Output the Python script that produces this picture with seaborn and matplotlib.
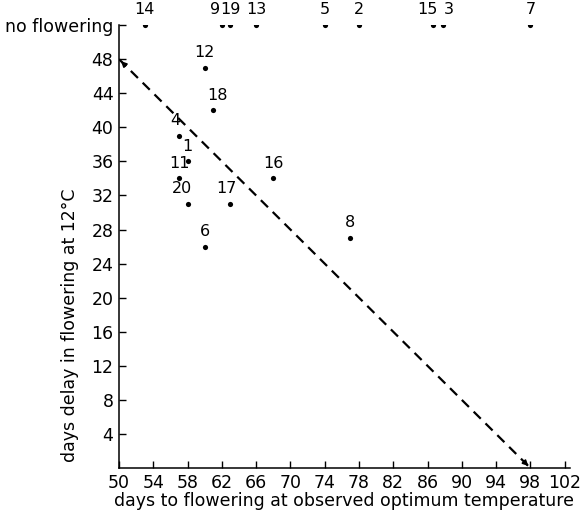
""" Flowering delay at 12°C vs days to flowering at optimum temperature """

import pandas as pd
import matplotlib
matplotlib.use("Agg")
import matplotlib.pyplot as plt
import seaborn as sns

# Genotype numbers and their values
# (y = 52 stands for "no flowering")
ids = [14, 9, 19, 13, 5, 2, 15, 3, 7,
       12, 18, 4, 1, 11, 20, 17, 16, 6, 8]
days_opt = [53, 62, 63, 66, 74, 78, 86.6, 87.8, 98,
            60, 61, 57, 58, 57, 58, 63, 68, 60, 77]
days_delay = [52, 52, 52, 52, 52, 52, 52, 52, 52,
              47, 42, 39, 36, 34, 31, 31, 34, 26, 27]

# dashed reference line
line_x = [50, 98]
line_y = [48, 0]

x_ticks = list(range(50, 103, 4))
y_ticks = list(range(4, 49, 4)) + [52]
y_tick_labels = [str(t) for t in range(4, 49, 4)] + ["no flowering"]

df = pd.DataFrame({"id": ids, "x": days_opt, "y": days_delay})

sns.set_style("ticks")
plt.rcParams["font.family"] = ["DejaVu Sans"]
for key in ["text.color", "axes.labelcolor", "xtick.color", "ytick.color", "axes.edgecolor"]:
    plt.rcParams[key] = "black"

fig = plt.figure(figsize=(5.82, 5.13), dpi=100)
ax = fig.add_axes([0.2045, 0.0877, 0.7745, 0.8633])

# dashed line with small arrow heads at both ends
ax.plot(line_x, line_y, color="black", linestyle=(0, (4.5, 3)), linewidth=1.6)
ax.annotate("", xy=(line_x[0], line_y[0]), xytext=(line_x[0] + 0.8, line_y[0] - 0.8),
            arrowprops=dict(arrowstyle="-|>", color="black", lw=1.2, mutation_scale=8))
ax.annotate("", xy=(line_x[1], line_y[1]), xytext=(line_x[1] - 0.8, line_y[1] + 0.8),
            arrowprops=dict(arrowstyle="-|>", color="black", lw=1.2, mutation_scale=8))

sns.scatterplot(data=df, x="x", y="y", ax=ax, color="black", s=14,
                edgecolor="black", linewidth=0, zorder=3)

# small sideways nudges so the crowded labels don't collide
nudge = {9: -5, 15: -4, 3: 4, 20: -4, 4: -3, 17: -3, 18: 3}
for _, r in df.iterrows():
    ax.annotate(str(int(r["id"])), (r["x"], r["y"]),
                xytext=(nudge.get(int(r["id"]), 0), 5.5), textcoords="offset points",
                ha="center", va="bottom", fontsize=11.5)

ax.set_xlim(50, 102.6)
ax.set_ylim(0, 52)
ax.set_xticks(x_ticks)
ax.set_yticks(y_ticks)
ax.set_yticklabels(y_tick_labels)
ax.tick_params(direction="in", length=5, width=1, labelsize=12.5, pad=4)

ax.set_xlabel("days to flowering at observed optimum temperature", fontsize=12.5, labelpad=0)
ax.set_ylabel("days delay in flowering at 12°C", fontsize=12.5)
ax.yaxis.set_label_coords(-0.088, 0.323)

sns.despine(ax=ax)
for side in ["left", "bottom"]:
    ax.spines[side].set_linewidth(1.1)

fig.savefig("out.png", dpi=100)
